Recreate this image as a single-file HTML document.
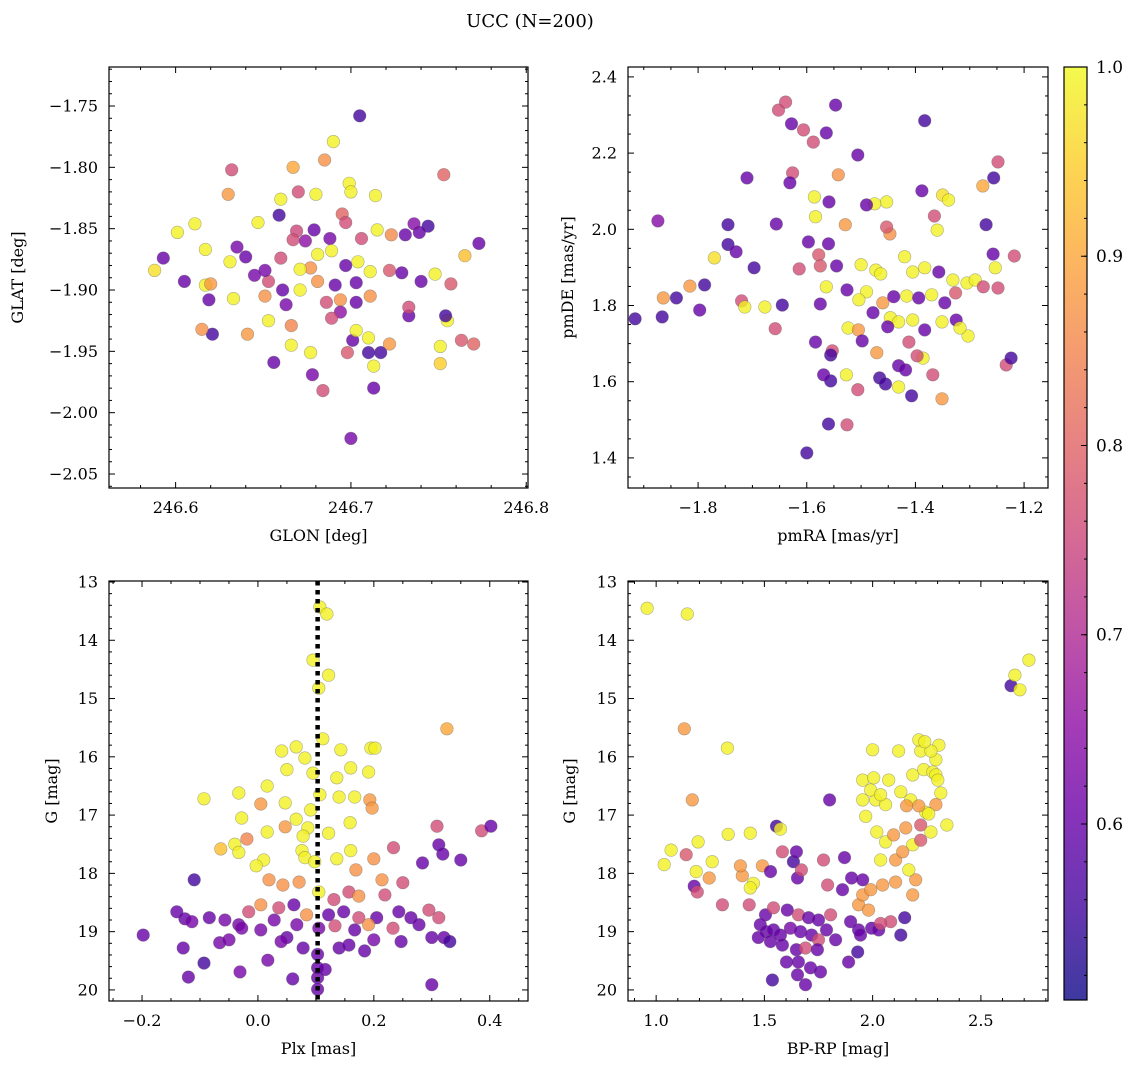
<!DOCTYPE html>
<html><head><meta charset="utf-8">
<style>
html,body{margin:0;padding:0;background:#fff;}
svg{display:block;font-family:"DejaVu Serif","Liberation Serif",serif;}
text{font-family:"DejaVu Serif","Liberation Serif",serif;}
</style></head>
<body>
<svg id="fig" width="1136" height="1067" viewBox="0 0 1136 1067" xmlns="http://www.w3.org/2000/svg">
<defs>
<linearGradient id="plasmaGrad" x1="0" y1="1" x2="0" y2="0">
<stop offset="0" stop-color="#0d0887"/><stop offset="0.1" stop-color="#41049d"/><stop offset="0.2" stop-color="#6a00a8"/><stop offset="0.3" stop-color="#8f0da4"/><stop offset="0.4" stop-color="#b12a90"/><stop offset="0.5" stop-color="#cc4778"/><stop offset="0.6" stop-color="#e16462"/><stop offset="0.7" stop-color="#f2844b"/><stop offset="0.8" stop-color="#fca636"/><stop offset="0.9" stop-color="#fcce25"/><stop offset="1" stop-color="#f0f921"/>
</linearGradient>
</defs>
<text x="530" y="27" text-anchor="middle" font-size="18" font-family="DejaVu Serif, serif">UCC (N=200)</text>
</svg>
<script>
// ---------- Panel 1: GLON / GLAT ----------
const p1Glon=[246.705,246.69,246.685,246.667,246.632,246.753,246.699,246.67,246.68,246.714,246.63,246.66,246.70,246.659,246.695,246.611,246.601,246.647,246.593,246.588,246.617,246.605,246.617,246.62,246.619,246.633,246.621,246.615,246.641,246.635,246.631,246.64,246.645,246.651,246.653,246.663,246.656,246.666,246.666,246.677,246.678,246.684,246.7,246.701,246.703,246.698,246.71,246.71,246.713,246.713,246.717,246.722,246.751,246.751,246.763,246.77,246.755,246.754,246.733,246.733,246.74,246.748,246.757,246.765,246.773,246.744,246.739,246.731,246.736,246.723,246.715,246.706,246.697,246.688,246.679,246.669,246.667,246.674,246.681,246.689,246.697,246.704,246.711,246.722,246.729,246.703,246.691,246.681,246.671,246.661,246.653,246.686,246.694,246.703,246.711,246.694,246.689,246.677,246.671,246.66,246.651];
const p1Glat=[-1.758,-1.779,-1.794,-1.80,-1.802,-1.806,-1.813,-1.82,-1.822,-1.823,-1.822,-1.826,-1.82,-1.839,-1.838,-1.846,-1.853,-1.845,-1.874,-1.884,-1.867,-1.893,-1.896,-1.895,-1.908,-1.907,-1.936,-1.932,-1.936,-1.865,-1.877,-1.873,-1.888,-1.905,-1.925,-1.912,-1.959,-1.929,-1.945,-1.951,-1.969,-1.982,-2.021,-1.941,-1.933,-1.951,-1.951,-1.939,-1.962,-1.98,-1.951,-1.944,-1.96,-1.946,-1.941,-1.944,-1.925,-1.921,-1.921,-1.914,-1.893,-1.887,-1.895,-1.872,-1.862,-1.848,-1.853,-1.855,-1.846,-1.855,-1.851,-1.858,-1.845,-1.858,-1.851,-1.852,-1.859,-1.86,-1.871,-1.868,-1.88,-1.877,-1.885,-1.884,-1.886,-1.894,-1.896,-1.893,-1.9,-1.9,-1.893,-1.91,-1.908,-1.91,-1.905,-1.918,-1.923,-1.882,-1.883,-1.874,-1.884];
const p1Prob=[0.56,0.99,0.87,0.9,0.76,0.8,0.99,0.76,0.99,0.99,0.88,0.99,0.99,0.56,0.8,0.99,0.99,0.99,0.6,0.97,0.99,0.6,0.99,0.88,0.6,0.99,0.56,0.87,0.88,0.62,0.99,0.6,0.62,0.87,0.99,0.62,0.6,0.85,0.99,0.99,0.62,0.76,0.62,0.6,0.99,0.78,0.56,0.99,0.99,0.6,0.56,0.88,0.95,0.99,0.78,0.8,0.99,0.56,0.6,0.76,0.6,0.99,0.78,0.93,0.6,0.56,0.6,0.6,0.64,0.86,0.99,0.76,0.76,0.62,0.6,0.75,0.76,0.65,0.99,0.99,0.6,0.99,0.99,0.78,0.6,0.6,0.6,0.87,0.99,0.6,0.76,0.76,0.87,0.6,0.87,0.65,0.76,0.87,0.99,0.76,0.62];

// ---------- Panel 2: pmRA / pmDE ----------
const p2Pmra=[-1.652,-1.639,-1.628,-1.606,-1.588,-1.547,-1.564,-1.383,-1.248,-1.506,-1.71,-1.626,-1.631,-1.542,-1.276,-1.256,-1.388,-1.35,-1.339,-1.365,-1.453,-1.475,-1.49,-1.586,-1.559,-1.529,-1.584,-1.656,-1.745,-1.874,-1.27,-1.36,-1.447,-1.453,-1.597,-1.56,-1.745,-1.73,-1.77,-1.697,-1.578,-1.575,-1.614,-1.545,-1.5,-1.473,-1.464,-1.218,-1.257,-1.253,-1.42,-1.405,-1.383,-1.357,-1.331,-1.305,-1.29,-1.815,-1.788,-1.864,-1.84,-1.797,-1.72,-1.714,-1.677,-1.645,-1.866,-1.658,-1.575,-1.564,-1.526,-1.49,-1.504,-1.478,-1.46,-1.44,-1.416,-1.394,-1.37,-1.346,-1.326,-1.275,-1.248,-1.446,-1.431,-1.451,-1.405,-1.383,-1.351,-1.325,-1.303,-1.318,-1.524,-1.505,-1.498,-1.584,-1.553,-1.471,-1.556,-1.412,-1.386,-1.397,-1.431,-1.418,-1.466,-1.455,-1.431,-1.368,-1.233,-1.224,-1.556,-1.527,-1.569,-1.506,-1.407,-1.351,-1.56,-1.526,-1.6,-1.916];
const p2Pmde=[2.313,2.334,2.277,2.261,2.229,2.326,2.253,2.285,2.177,2.195,2.135,2.148,2.122,2.143,2.114,2.135,2.101,2.09,2.077,2.035,2.072,2.067,2.064,2.085,2.072,2.012,2.033,2.014,2.012,2.022,2.012,1.998,1.988,2.006,1.967,1.962,1.96,1.941,1.925,1.899,1.933,1.904,1.896,1.904,1.907,1.893,1.883,1.93,1.935,1.899,1.928,1.888,1.899,1.888,1.867,1.859,1.867,1.851,1.854,1.82,1.82,1.788,1.812,1.796,1.796,1.801,1.77,1.739,1.804,1.849,1.841,1.836,1.815,1.781,1.807,1.823,1.825,1.82,1.828,1.807,1.833,1.849,1.846,1.768,1.757,1.744,1.762,1.736,1.757,1.762,1.72,1.741,1.741,1.736,1.707,1.704,1.681,1.676,1.67,1.704,1.662,1.668,1.642,1.631,1.61,1.594,1.586,1.618,1.644,1.662,1.602,1.618,1.618,1.579,1.563,1.555,1.489,1.487,1.413,1.765];
const p2Prob=[0.76,0.76,0.6,0.76,0.76,0.6,0.6,0.56,0.76,0.6,0.6,0.76,0.6,0.87,0.9,0.56,0.6,0.97,0.99,0.76,0.99,0.99,0.6,0.99,0.6,0.88,0.99,0.6,0.56,0.64,0.56,0.99,0.87,0.78,0.6,0.6,0.56,0.6,0.97,0.56,0.78,0.78,0.76,0.6,0.99,0.99,0.99,0.76,0.6,0.99,0.99,0.99,0.99,0.6,0.99,0.99,0.99,0.88,0.56,0.88,0.56,0.6,0.76,0.99,0.99,0.56,0.56,0.76,0.6,0.99,0.6,0.99,0.99,0.6,0.88,0.6,0.99,0.6,0.99,0.6,0.78,0.76,0.76,0.99,0.99,0.6,0.99,0.6,0.99,0.6,0.99,0.99,0.99,0.88,0.6,0.6,0.76,0.88,0.56,0.76,0.99,0.76,0.6,0.6,0.56,0.56,0.99,0.76,0.76,0.56,0.56,0.99,0.6,0.76,0.56,0.88,0.56,0.76,0.56,0.56];

// ---------- Panel 3: Plx / G ----------
const p3Plx=[0.107,0.119,0.095,0.122,0.105,0.326,0.112,0.041,0.066,0.081,0.143,0.195,0.202,0.095,0.05,0.136,0.16,0.191,-0.033,0.016,-0.093,0.047,0.107,0.14,0.167,0.193,0.005,0.091,0.066,0.197,-0.019,-0.028,0.086,0.078,0.122,0.159,0.047,0.016,-0.04,-0.033,-0.064,0.01,-0.003,0.076,0.081,0.098,0.136,0.16,0.234,0.309,0.312,0.319,0.386,0.402,0.284,0.35,0.2,0.169,0.214,0.019,0.043,-0.11,0.071,0.105,0.131,0.157,0.219,0.25,0.174,-0.14,-0.084,-0.016,0.005,0.036,0.062,0.084,0.122,0.148,0.174,0.205,0.243,0.264,0.295,0.312,-0.126,-0.114,-0.057,-0.033,0.028,0.067,0.05,0.105,0.133,0.167,0.191,0.233,0.278,0.321,0.331,0.3,-0.198,-0.066,-0.05,-0.028,0.005,0.04,0.078,0.14,0.157,0.2,0.247,-0.129,0.017,-0.093,-0.031,-0.12,0.06,0.103,0.116,0.184,0.3,0.103,0.103,0.103];
const p3G=[13.43,13.55,14.34,14.6,14.82,15.52,15.69,15.9,15.83,16.02,15.88,15.85,15.85,16.28,16.22,16.36,16.19,16.26,16.62,16.5,16.72,16.79,16.65,16.69,16.69,16.74,16.81,16.91,17.07,16.88,17.41,17.05,17.22,17.36,17.31,17.13,17.2,17.29,17.5,17.64,17.58,17.77,17.87,17.61,17.73,17.8,17.75,17.61,17.56,17.19,17.51,17.67,17.27,17.19,17.82,17.77,17.75,17.94,18.11,18.11,18.2,18.11,18.15,18.32,18.45,18.32,18.37,18.16,18.39,18.66,18.76,18.66,18.54,18.59,18.54,18.71,18.71,18.66,18.76,18.76,18.66,18.76,18.63,18.76,18.78,18.83,18.8,18.88,18.8,18.88,19.1,18.94,18.9,18.97,18.88,18.94,18.88,19.1,19.17,19.1,19.06,19.19,19.14,18.94,18.97,19.17,19.28,19.28,19.23,19.14,19.17,19.28,19.49,19.54,19.69,19.78,19.81,19.79,19.65,19.33,19.91,19.62,19.99,19.39];
const p3Prob=[0.99,0.99,0.99,0.99,0.99,0.9,0.99,0.99,0.99,0.99,0.99,0.99,0.99,0.99,0.99,0.99,0.99,0.99,0.99,0.99,0.99,0.99,0.99,0.99,0.99,0.88,0.88,0.99,0.99,0.88,0.85,0.99,0.99,0.99,0.99,0.99,0.88,0.99,0.99,0.99,0.93,0.99,0.99,0.99,0.99,0.99,0.99,0.99,0.76,0.76,0.6,0.6,0.76,0.6,0.6,0.6,0.87,0.87,0.87,0.87,0.87,0.56,0.87,0.99,0.76,0.76,0.76,0.76,0.87,0.6,0.6,0.76,0.87,0.76,0.6,0.87,0.6,0.6,0.76,0.6,0.6,0.6,0.76,0.76,0.6,0.62,0.62,0.62,0.62,0.62,0.6,0.62,0.76,0.6,0.87,0.76,0.6,0.6,0.56,0.6,0.6,0.62,0.62,0.62,0.62,0.62,0.6,0.6,0.6,0.62,0.6,0.6,0.62,0.56,0.62,0.6,0.6,0.6,0.6,0.6,0.6,0.6,0.6,0.6];

// ---------- Panel 4: BP-RP / G ----------
const p4Bprp=[0.958,1.144,2.639,2.657,2.68,2.722,1.13,1.329,1.167,1.556,1.574,1.435,1.333,1.194,1.069,1.037,1.139,1.185,1.259,1.245,1.398,1.449,1.435,1.389,1.491,1.634,1.648,1.583,1.528,1.653,1.671,1.801,1.773,1.176,1.19,1.306,1.43,1.505,1.542,1.606,1.657,1.704,1.75,1.806,1.792,1.861,1.903,1.954,1.87,1.481,1.509,1.542,1.574,1.62,1.667,1.718,1.75,1.787,1.829,1.898,1.935,1.944,1.995,2.028,2.13,2.148,2.083,1.528,1.583,1.648,1.69,1.745,1.602,1.657,1.713,1.759,1.653,1.69,1.537,1.889,1.931,1.472,1.935,1.981,2.037,1.954,1.991,2.046,2.106,2.185,2.199,2.167,2.106,2.037,2.019,2.06,2.097,2.153,2.222,2.245,2.269,2.185,2.139,2.343,2.222,1.968,1.954,2.014,2.06,1.991,2.037,1.954,2.005,2.074,2.13,2.176,2.157,2.213,2.292,2.259,2.185,2.236,2.292,2.278,2.292,2.222,2.306,2.269,2.213,2.241,2.301,2.315,2.0,2.12];
const p4G=[13.45,13.55,14.78,14.6,14.85,14.34,15.52,15.85,16.74,17.19,17.24,17.31,17.33,17.46,17.6,17.85,17.68,17.97,17.8,18.08,18.04,18.17,18.25,17.87,17.87,17.8,17.63,17.63,17.97,18.08,17.94,16.74,17.77,18.22,18.32,18.54,18.54,18.71,18.59,18.63,18.71,18.76,18.8,18.71,18.2,18.28,18.08,18.11,17.73,18.88,19.0,18.97,19.06,18.94,19.0,19.06,19.14,18.97,19.14,18.83,18.97,19.06,18.94,18.97,19.06,18.76,18.83,19.17,19.23,19.31,19.28,19.31,19.52,19.52,19.62,19.69,19.74,19.91,19.83,19.52,19.35,19.1,18.54,18.63,18.86,18.37,18.28,18.2,18.15,18.37,18.11,17.94,17.77,17.77,17.29,17.46,17.34,17.22,17.17,16.95,17.29,17.51,17.63,17.17,17.43,17.02,16.74,16.74,16.82,16.57,16.65,16.4,16.36,16.4,16.6,16.74,16.84,16.84,16.82,16.98,16.31,16.22,16.05,16.26,16.31,15.9,15.8,15.9,15.71,15.74,16.4,16.62,15.88,15.9];
const p4Prob=[0.99,0.99,0.56,0.99,0.99,0.99,0.88,0.99,0.88,0.56,0.99,0.99,0.99,0.99,0.99,0.99,0.78,0.99,0.99,0.88,0.88,0.99,0.99,0.88,0.88,0.56,0.6,0.76,0.6,0.6,0.76,0.6,0.76,0.6,0.76,0.76,0.76,0.6,0.76,0.6,0.76,0.6,0.6,0.76,0.76,0.6,0.6,0.6,0.6,0.6,0.6,0.6,0.6,0.62,0.6,0.6,0.76,0.6,0.6,0.6,0.6,0.6,0.6,0.6,0.56,0.56,0.76,0.6,0.6,0.6,0.76,0.6,0.6,0.6,0.6,0.6,0.6,0.6,0.56,0.6,0.56,0.6,0.88,0.88,0.76,0.88,0.88,0.88,0.88,0.88,0.88,0.99,0.88,0.99,0.99,0.99,0.88,0.88,0.78,0.99,0.99,0.99,0.88,0.99,0.78,0.99,0.99,0.99,0.99,0.99,0.99,0.99,0.99,0.99,0.99,0.99,0.88,0.88,0.88,0.99,0.99,0.99,0.99,0.99,0.99,0.99,0.99,0.99,0.99,0.99,0.99,0.99,0.99,0.99];

const cbarTicks=[0.6,0.7,0.8,0.9,1.0];
const cbarMin=0.507, cbarMax=1.0;
const plxRef=0.103;

const NS="http://www.w3.org/2000/svg";
const FONT="DejaVu Serif, Liberation Serif, serif";
const svg=document.getElementById('fig');
function mk(tag,attrs,parent){const e=document.createElementNS(NS,tag);for(const k in attrs)e.setAttribute(k,attrs[k]);if(tag==='text')e.setAttribute('font-family',FONT);(parent||svg).appendChild(e);return e;}

const stops=[[13,8,135],[65,4,157],[106,0,168],[143,13,164],[177,42,144],[204,71,120],[225,100,98],[242,132,75],[252,166,54],[252,206,37],[240,249,33]];
function plasma(v){let t=(v-cbarMin)/(cbarMax-cbarMin);t=Math.max(0,Math.min(1,t));const f=t*10;const i=Math.min(9,Math.floor(f));const r=f-i;const a=stops[i],b=stops[i+1];return 'rgb('+a.map((c,k)=>Math.round(c+(b[k]-c)*r)).join(',')+')';}

function fmt(v,d){let s=v.toFixed(d);if(Math.abs(v)<1e-9)s=(0).toFixed(d);return s.replace('-','\u2212');}

function panel(o){
  const g=mk('g',{});
  
  
  const sx=v=>o.x0+(v-o.xmin)/(o.xmax-o.xmin)*(o.x1-o.x0);
  const sy=o.yinv?(v=>o.y0+(v-o.ymin)/(o.ymax-o.ymin)*(o.y1-o.y0)):(v=>o.y1-(v-o.ymin)/(o.ymax-o.ymin)*(o.y1-o.y0));
  const pts=mk('g',{},g);
  
  
  for(let i=0;i<o.xs.length;i++){
    const c=mk('circle',{cx:sx(o.xs[i]).toFixed(1),cy:sy(o.ys[i]).toFixed(1),r:6.3,fill:plasma(o.ps[i]),'fill-opacity':0.8,stroke:'#555','stroke-opacity':0.45,'stroke-width':0.6},pts);
    
    
  }
  if(o.vline!==undefined){
    const l=mk('line',{x1:sx(o.vline),x2:sx(o.vline),y1:o.y0,y2:o.y1,stroke:'#000','stroke-width':4.5,'stroke-dasharray':'4.5,4.5'},g);
    
    
  }
  const fr=mk('rect',{x:o.x0,y:o.y0,width:o.x1-o.x0,height:o.y1-o.y0,fill:'none',stroke:'#000','stroke-width':1.2},g);
  
  
  const tk=mk('g',{stroke:'#000','stroke-width':1},g);
  for(let v=Math.ceil(o.xmin/o.xmi-1e-6)*o.xmi; v<=o.xmax+1e-9; v+=o.xmi){
    const px=sx(v);const major=Math.abs(v/o.xma-Math.round(v/o.xma))<1e-4;const L=major?6:3;
    mk('line',{x1:px,x2:px,y1:o.y1,y2:o.y1-L},tk);mk('line',{x1:px,x2:px,y1:o.y0,y2:o.y0+L},tk);
    if(major){const t=mk('text',{x:px,y:o.y1+25,'text-anchor':'middle','font-size':16,stroke:'none'},g);t.textContent=fmt(v,o.xd);
      
      }
  }
  for(let v=Math.ceil(o.ymin/o.ymi-1e-6)*o.ymi; v<=o.ymax+1e-9; v+=o.ymi){
    const py=sy(v);const major=Math.abs(v/o.yma-Math.round(v/o.yma))<1e-4;const L=major?6:3;
    mk('line',{x1:o.x0,x2:o.x0+L,y1:py,y2:py},tk);mk('line',{x1:o.x1,x2:o.x1-L,y1:py,y2:py},tk);
    if(major){const t=mk('text',{x:o.x0-11,y:py+5.5,'text-anchor':'end','font-size':16,stroke:'none'},g);t.textContent=fmt(v,o.yd);
      
      }
  }
  const xt=mk('text',{x:(o.x0+o.x1)/2,y:o.y1+53,'text-anchor':'middle','font-size':16},g);xt.textContent=o.xl;
  
  
  const yx=o.ylx,yy=(o.y0+o.y1)/2;
  const yt=mk('text',{x:yx,y:yy,'text-anchor':'middle','font-size':16,transform:'rotate(-90 '+yx+' '+yy+')'},g);yt.textContent=o.yl;
  
  
}

panel({name:'glon-glat-panel',x0:109,x1:528,y0:67,y1:488,xmin:246.562,xmax:246.801,ymin:-2.0614,ymax:-1.7182,xma:0.1,xmi:0.02,yma:0.05,ymi:0.01,xd:1,yd:2,xs:p1Glon,ys:p1Glat,ps:p1Prob,xl:'GLON [deg]',yl:'GLAT [deg]',ylx:23});
panel({name:'pm-panel',x0:628,x1:1048,y0:67,y1:488,xmin:-1.929,xmax:-1.156,ymin:1.321,ymax:2.426,xma:0.2,xmi:0.05,yma:0.2,ymi:0.05,xd:1,yd:1,xs:p2Pmra,ys:p2Pmde,ps:p2Prob,xl:'pmRA [mas/yr]',yl:'pmDE [mas/yr]',ylx:573});
panel({name:'plx-g-panel',x0:109,x1:528,y0:581,y1:1001,xmin:-0.257,xmax:0.466,ymin:12.983,ymax:20.19,yinv:true,xma:0.2,xmi:0.05,yma:1,ymi:0.2,xd:1,yd:0,xs:p3Plx,ys:p3G,ps:p3Prob,xl:'Plx [mas]',yl:'G [mag]',ylx:57,vline:plxRef});
panel({name:'cmd-panel',x0:628,x1:1048,y0:581,y1:1001,xmin:0.870,xmax:2.81,ymin:12.983,ymax:20.19,yinv:true,xma:0.5,xmi:0.1,yma:1,ymi:0.2,xd:1,yd:0,xs:p4Bprp,ys:p4G,ps:p4Prob,xl:'BP-RP [mag]',yl:'G [mag]',ylx:575});

// colorbar
const cb=mk('g',{});


const cx0=1064,cx1=1087,cy0=67,cy1=1000;
mk('rect',{x:cx0,y:cy0,width:cx1-cx0,height:cy1-cy0,fill:'url(#plasmaGrad)','fill-opacity':0.8},cb);
mk('rect',{x:cx0,y:cy0,width:cx1-cx0,height:cy1-cy0,fill:'none',stroke:'#000','stroke-width':1.2},cb);
const cby=v=>cy1-(v-cbarMin)/(cbarMax-cbarMin)*(cy1-cy0);
for(let v=0.52;v<=1.0001;v+=0.02){const py=cby(v);mk('line',{x1:cx1,x2:cx1-3,y1:py,y2:py,stroke:'#000','stroke-width':1},cb);}
cbarTicks.forEach(v=>{const py=cby(v);mk('line',{x1:cx1,x2:cx1-6,y1:py,y2:py,stroke:'#000','stroke-width':1},cb);
  const t=mk('text',{x:cx1+9,y:py+6,'font-size':17},cb);t.textContent=v.toFixed(1);
  
  });
</script>
</body></html>
